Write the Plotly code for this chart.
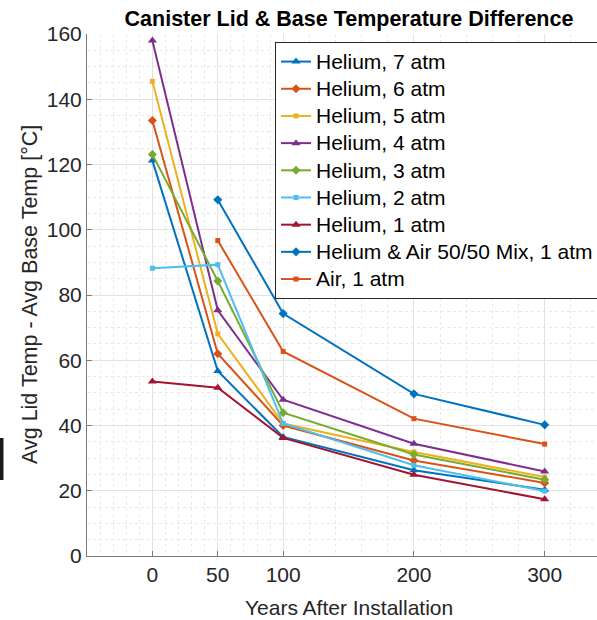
import plotly.graph_objects as go

# Years after installation, drawn at evenly spaced slots (non-linear spacing)
years = [0, 50, 100, 200, 300]
slots = [1, 2, 3, 5, 7]

he7 = [121.2, 56.7, 36.5, 26.3, 20.3]
he6 = [133.5, 62.0, 40.0, 29.3, 22.4]
he5 = [145.5, 68.1, 40.6, 31.9, 24.2]
he4 = [158.0, 75.3, 47.9, 34.4, 25.9]
he3 = [123.1, 84.3, 43.9, 31.1, 23.4]
he2 = [88.2, 89.3, 40.6, 27.8, 19.9]
he1 = [53.5, 51.6, 36.2, 24.9, 17.4]
mix = [None, 109.2, 74.3, 49.7, 40.2]
air = [None, 96.7, 62.7, 42.1, 34.3]

names = ["Helium, 7 atm", "Helium, 6 atm", "Helium, 5 atm", "Helium, 4 atm",
         "Helium, 3 atm", "Helium, 2 atm", "Helium, 1 atm",
         "Helium & Air 50/50 Mix, 1 atm", "Air, 1 atm"]
series = [he7, he6, he5, he4, he3, he2, he1, mix, air]
colors = ["#0072BD", "#D95319", "#EDB120", "#7E2F8E", "#77AC30", "#4DBEEE",
          "#A2142F", "#0072BD", "#D95319"]
symbols = ["triangle-up", "diamond", "square", "triangle-up", "diamond", "square",
           "triangle-up", "diamond", "square"]
sizes = {"triangle-up": 8, "diamond": 7, "square": 5}

FONT = "Liberation Sans, Arial, sans-serif"
INK = "#262626"
LEGEND_TEXT = 21     # legend label size
LEGEND_ROW = 18.6    # sets the legend row pitch (compact rows)

fig = go.Figure()
for name, vals, col, sym in zip(names, series, colors, symbols):
    xs = [s for s, v in zip(slots, vals) if v is not None]
    ys = [v for v in vals if v is not None]
    fig.add_trace(go.Scatter(
        x=xs, y=ys,
        name=f'<span style="font-size:{LEGEND_TEXT}px">{name}</span>',
        mode="lines+markers",
        line=dict(color=col, width=2),
        marker=dict(symbol=sym, size=sizes[sym], color=col),
    ))

# minor grid: five subdivisions between neighbouring major slots
edges = [0] + slots + [9]
minor_x = []
for a, b in zip(edges[:-1], edges[1:]):
    step = (b - a) / 5
    minor_x += [a + step * k for k in range(1, 5)]

W, H = 597, 620
L, R, T, B = 87, 0, 34, 64
pw, ph = W - L - R, H - T - B


def px_x(p):
    return (p - L) / pw


def px_y(p):
    return (H - B - p) / ph


fig.update_layout(
    width=W, height=H,
    margin=dict(l=L, r=R, t=T, b=B, pad=0, autoexpand=False),
    plot_bgcolor="white", paper_bgcolor="white",
    font=dict(family=FONT, size=21, color=INK),
    showlegend=True,
    legend=dict(
        x=px_x(275), y=px_y(42), xanchor="left", yanchor="top",
        bgcolor="white", bordercolor=INK, borderwidth=1,
        font=dict(family=FONT, size=LEGEND_ROW, color="#000000"),
        tracegroupgap=0,
    ),
    title=dict(
        text="<b>Canister Lid & Base Temperature Difference</b>",
        xref="paper", x=px_x(349), xanchor="center",
        yref="container", y=1 - 18 / H, yanchor="middle",
        font=dict(family=FONT, size=21.5, color="#000000"),
    ),
    xaxis=dict(
        range=[0, 7.8], tickmode="array", tickvals=slots,
        ticktext=[str(y) for y in years],
        showgrid=True, gridcolor="#e3e3e3", gridwidth=1,
        minor=dict(tickmode="array", tickvals=minor_x, showgrid=True,
                   gridcolor="#e9e9e9", griddash="dot", ticks=""),
        showline=True, linecolor="#7a7a7a", linewidth=1,
        ticks="inside", ticklen=5, tickcolor="#7a7a7a",
        zeroline=False, tickfont=dict(size=21, color=INK),
    ),
    yaxis=dict(
        range=[0, 160], dtick=20, tick0=0,
        showgrid=True, gridcolor="#e3e3e3", gridwidth=1,
        minor=dict(dtick=5, showgrid=True, gridcolor="#e9e9e9",
                   griddash="dot", ticks=""),
        showline=True, linecolor="#7a7a7a", linewidth=1,
        ticks="inside", ticklen=5, tickcolor="#7a7a7a",
        zeroline=False, tickfont=dict(size=21, color=INK),
    ),
    annotations=[
        dict(text="Years After Installation", xref="paper", yref="paper",
             x=px_x(349), y=px_y(607), xanchor="center", yanchor="middle",
             showarrow=False, font=dict(size=21, color=INK)),
        dict(text="Avg Lid Temp - Avg Base Temp [°C]", xref="paper", yref="paper",
             x=px_x(30), y=px_y(295), xanchor="center", yanchor="middle",
             textangle=-90, showarrow=False, font=dict(size=21.5, color=INK)),
    ],
    shapes=[
        dict(type="rect", xref="paper", yref="paper",
             x0=px_x(0), x1=px_x(3.5), y0=px_y(480), y1=px_y(438),
             fillcolor="#1a1a1a", line=dict(width=0)),
    ],
)

fig.write_html("out.html")
